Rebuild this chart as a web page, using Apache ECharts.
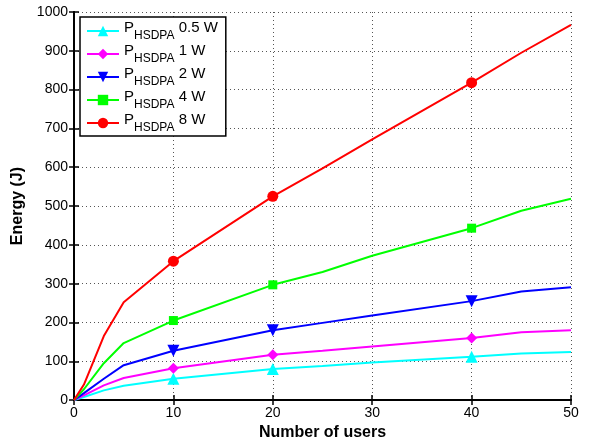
<!DOCTYPE html>
<html>
<head>
<meta charset="utf-8">
<script src="https://cdn.jsdelivr.net/npm/echarts@6/dist/echarts.min.js"></script>
<style>
  html, body { margin: 0; padding: 0; background: #fff; }
  #chart { width: 592px; height: 446px; }
</style>
</head>
<body>
<div id="chart"></div>
<script>
// users (x) where the curves have vertices
const users = [0, 1, 3, 5, 10, 20, 25, 30, 40, 45, 50]
// marker shown only at these users
const markerUsers = [10, 20, 40]
const names = ['0.5 W', '1 W', '2 W', '4 W', '8 W']
const energy05 = [0, 8, 25, 37, 55, 80, 88, 97, 112, 120, 124]
const energy1 = [0, 12, 38, 57, 82, 117, 127, 138, 160, 175, 180]
const energy2 = [0, 18, 55, 90, 127, 180, 199, 218, 255, 280, 291]
const energy4 = [0, 28, 95, 147, 205, 297, 330, 372, 443, 488, 519]
const energy8 = [0, 40, 165, 252, 358, 525, 597, 672, 818, 895, 967]
const yTicks = [0, 100, 200, 300, 400, 500, 600, 700, 800, 900, 1000]

const colors = ['#00ffff', '#ff00ff', '#0000ff', '#00ff00', '#ff0000']
const symbols = ['triangle', 'diamond', 'path://M0,0 L2,0 L1,2 Z', 'rect', 'circle']
const symbolSizes = [12, 11, 12, 9, 11]
const allData = [energy05, energy1, energy2, energy4, energy8]

const chart = echarts.init(document.getElementById('chart'))
const font = 'Liberation Sans, Arial, sans-serif'

const series = allData.map((vals, i) => ({
  name: '{p|P}{sub|HSDPA}{p| ' + names[i] + '}',
  type: 'line',
  symbol: symbols[i],
  symbolSize: symbolSizes[i],
  showAllSymbol: true,
  color: colors[i],
  lineStyle: { width: 2, color: colors[i] },
  itemStyle: { color: colors[i] },
  emphasis: { disabled: true },
  data: users.map((u, j) => ({
    value: [u, vals[j]],
    symbol: markerUsers.indexOf(u) >= 0 ? symbols[i] : 'none'
  }))
}))

const axisCommon = {
  axisLine: { show: true, lineStyle: { color: '#000', width: 2 } },
  axisTick: { show: true, inside: true, length: 5, lineStyle: { color: '#000', width: 1.5 } }
}

const options = {
  animation: false,
  grid: { left: 74, right: 21, top: 12, bottom: 43 },
  legend: {
    orient: 'vertical',
    left: 80,
    top: 17,
    padding: [2, 8, 2, 6],
    itemGap: 0,
    itemWidth: 32,
    itemHeight: 13,
    borderColor: '#000',
    borderWidth: 1.5,
    backgroundColor: '#fff',
    textStyle: {
      fontFamily: font,
      fontSize: 15,
      color: '#000',
      rich: {
        p: { fontFamily: font, fontSize: 15, color: '#000', lineHeight: 22, verticalAlign: 'top', padding: [0, 0, 0, 0] },
        sub: { fontFamily: font, fontSize: 12, color: '#000', lineHeight: 22, verticalAlign: 'bottom', padding: [11, 0, 0, 0] }
      }
    },
    data: series.map(s => s.name)
  },
  xAxis: [{
    type: 'value',
    min: 0,
    max: 50,
    interval: 10,
    name: 'Number of users',
    nameLocation: 'middle',
    nameGap: 22,
    nameTextStyle: { fontFamily: font, fontSize: 16, fontWeight: 'bold', color: '#000' },
    axisLabel: { fontFamily: font, fontSize: 14, color: '#000', margin: 6 },
    splitLine: { show: true, lineStyle: { color: '#555', type: [1, 3], width: 1 } },
    ...axisCommon
  }, {
    type: 'value',
    position: 'top',
    min: 0,
    max: 50,
    interval: 10,
    axisLabel: { show: false },
    splitLine: { show: false },
    ...axisCommon
  }],
  yAxis: [{
    type: 'value',
    min: 0,
    max: 1000,
    interval: 100,
    name: 'Energy (J)',
    nameLocation: 'middle',
    nameGap: 45,
    nameTextStyle: { fontFamily: font, fontSize: 16, fontWeight: 'bold', color: '#000' },
    axisLabel: {
      fontFamily: font, fontSize: 14, color: '#000', margin: 6,
      formatter: v => (yTicks.indexOf(v) >= 0 ? String(v) : '')
    },
    splitLine: { show: true, lineStyle: { color: '#555', type: [1, 3], width: 1 } },
    ...axisCommon
  }, {
    type: 'value',
    position: 'right',
    min: 0,
    max: 1000,
    interval: 100,
    axisLabel: { show: false },
    splitLine: { show: false },
    ...axisCommon
  }],
  series: series
}
chart.setOption(options)
</script>
</body>
</html>
